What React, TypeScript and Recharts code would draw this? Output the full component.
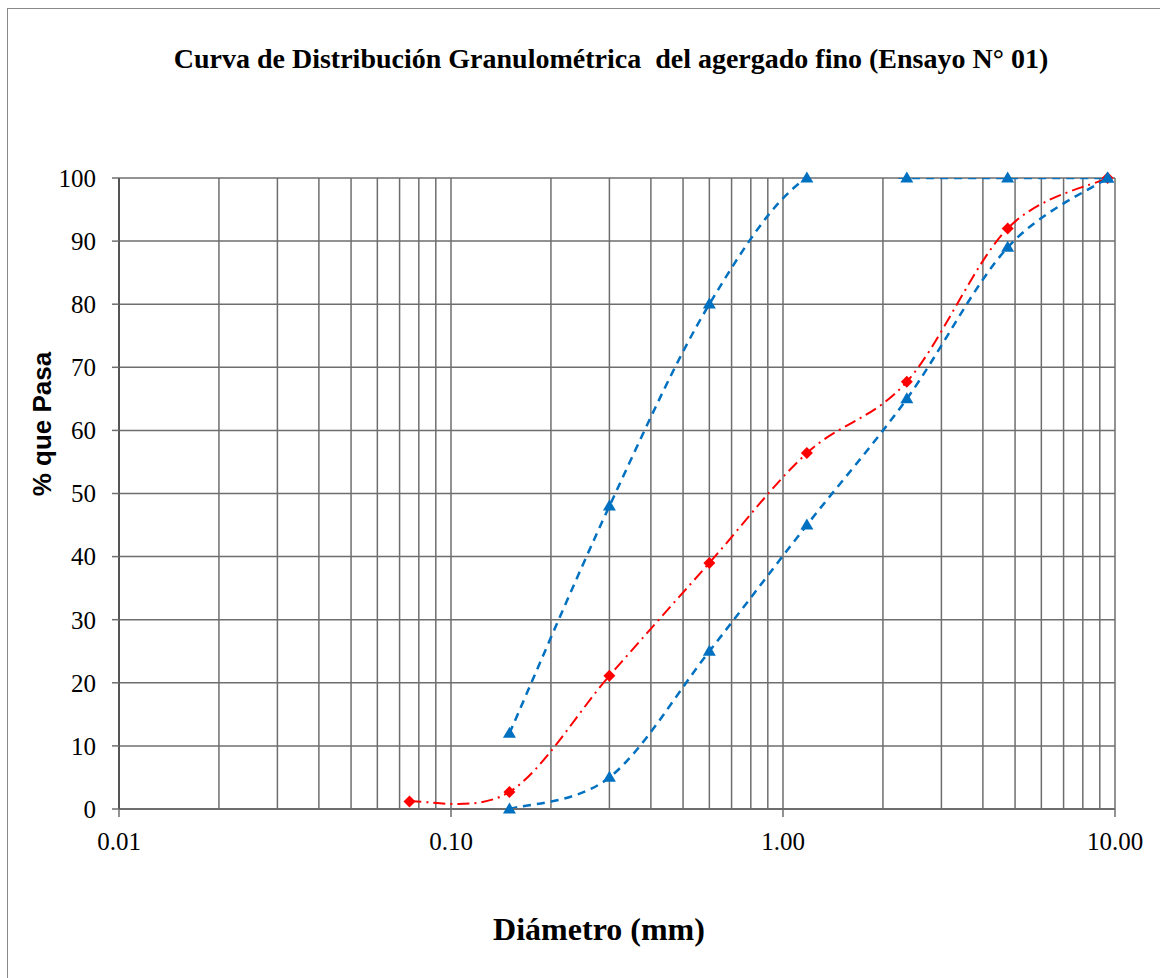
import React from 'react';
import { LineChart, Line, XAxis, YAxis, CartesianGrid } from 'recharts';

const sieveSizes = [0.075, 0.15, 0.3, 0.6, 1.18, 2.36, 4.75, 9.5];
const muestraPasa = [1.2, 2.7, 21.1, 39.0, 56.4, 67.7, 92.0, 100];

const limiteSizes = [0.15, 0.3, 0.6, 1.18, 2.36, 4.75, 9.5];
const limiteSuperior = [12, 48, 80, 100, 100, 100, 100];
const limiteInferior = [0, 5, 25, 45, 65, 89, 100];

const xTicks = [
  0.01, 0.02, 0.03, 0.04, 0.05, 0.06, 0.07, 0.08, 0.09,
  0.1, 0.2, 0.3, 0.4, 0.5, 0.6, 0.7, 0.8, 0.9,
  1, 2, 3, 4, 5, 6, 7, 8, 9, 10,
];
const xLabelTicks = [0.01, 0.1, 1, 10];
const yTicks = [0, 10, 20, 30, 40, 50, 60, 70, 80, 90, 100];

const redData = sieveSizes.map((x, i) => ({ x, y: muestraPasa[i] }));
const upperData = limiteSizes.map((x, i) => ({ x, y: limiteSuperior[i] }));
const lowerData = limiteSizes.map((x, i) => ({ x, y: limiteInferior[i] }));

const RED = '#FF0000';
const BLUE = '#0070C0';
const GRID = '#6e6e6e';
const SERIF = '"Liberation Serif", "Times New Roman", serif';
const SANS = '"Liberation Sans", Arial, sans-serif';

// Excel-like smoothed line (Catmull-Rom through points)
function excelSmooth(context: any) {
  let pts: [number, number][] = [];
  return {
    areaStart() {},
    areaEnd() {},
    lineStart() {
      pts = [];
    },
    lineEnd() {
      const n = pts.length;
      if (n === 0) return;
      context.moveTo(pts[0][0], pts[0][1]);
      if (n === 1) return;
      const t = 1 / 6;
      for (let i = 0; i < n - 1; i++) {
        const p0 = pts[i - 1] || pts[i];
        const p1 = pts[i];
        const p2 = pts[i + 1];
        const p3 = pts[i + 2] || p2;
        context.bezierCurveTo(
          p1[0] + (p2[0] - p0[0]) * t,
          p1[1] + (p2[1] - p0[1]) * t,
          p2[0] - (p3[0] - p1[0]) * t,
          p2[1] - (p3[1] - p1[1]) * t,
          p2[0],
          p2[1]
        );
      }
    },
    point(x: number, y: number) {
      pts.push([+x, +y]);
    },
  };
}

const diamond = (props: any) => {
  const { cx, cy, index } = props;
  if (cx == null || cy == null) return <g key={`d-${index}`} />;
  const s = 6;
  return (
    <path
      key={`d-${index}`}
      d={`M${cx},${cy - s}L${cx + s},${cy}L${cx},${cy + s}L${cx - s},${cy}Z`}
      fill={RED}
      stroke="none"
    />
  );
};

const triangle = (props: any) => {
  const { cx, cy, index, key } = props;
  if (cx == null || cy == null) return <g key={`t-${key}-${index}`} />;
  const w = 6.5;
  const h = 11;
  return (
    <path
      key={`t-${key}-${index}`}
      d={`M${cx},${cy - h * 0.6}L${cx + w},${cy + h * 0.4}L${cx - w},${cy + h * 0.4}Z`}
      fill={BLUE}
      stroke="none"
    />
  );
};

const XTick = (props: any) => {
  const { x, y, payload } = props;
  const v = payload.value;
  const isLabel = xLabelTicks.some((t) => Math.abs(t - v) < 1e-9);
  if (!isLabel) return <g />;
  return (
    <g>
      <line x1={x} y1={y} x2={x} y2={y + 8} stroke={GRID} strokeWidth={1.5} />
      <text
        x={x}
        y={y + 41}
        textAnchor="middle"
        fontFamily={SERIF}
        fontSize={25}
        fill="#000"
      >
        {v.toFixed(2)}
      </text>
    </g>
  );
};

export default function App() {
  return (
    <div
      style={{
        position: 'fixed',
        left: 0,
        top: 0,
        width: 1160,
        height: 978,
        overflow: 'hidden',
        background: '#fff',
      }}
    >
      <div
        style={{
          position: 'absolute',
          left: 7,
          top: 8,
          width: 1170,
          height: 1000,
          border: '1px solid #8a8a8a',
          boxSizing: 'border-box',
        }}
      />
      <div
        style={{
          position: 'absolute',
          left: 611,
          top: 45,
          transform: 'translateX(-50%)',
          whiteSpace: 'pre',
          fontFamily: SERIF,
          fontWeight: 'bold',
          fontSize: 28,
          lineHeight: '28px',
          color: '#000',
        }}
      >
        Curva de Distribución Granulométrica  del agergado fino (Ensayo N° 01)
      </div>
      <div
        style={{
          position: 'absolute',
          left: 599,
          top: 913,
          transform: 'translateX(-50%)',
          whiteSpace: 'pre',
          fontFamily: SERIF,
          fontWeight: 'bold',
          fontSize: 32,
          lineHeight: '32px',
          color: '#000',
        }}
      >
        Diámetro (mm)
      </div>
      <div
        style={{
          position: 'absolute',
          left: 42,
          top: 424,
          transform: 'translate(-50%, -50%) rotate(-90deg)',
          whiteSpace: 'pre',
          fontFamily: SANS,
          fontWeight: 'bold',
          fontSize: 26,
          lineHeight: '26px',
          color: '#000',
        }}
      >
        % que Pasa
      </div>
      <div style={{ position: 'absolute', left: 0, top: 0 }}>
        <LineChart
          width={1160}
          height={978}
          margin={{ top: 178, right: 45, bottom: 129, left: 59 }}
        >
          <CartesianGrid
            stroke={GRID}
            strokeWidth={1.5}
            horizontal={true}
            vertical={true}
          />
          <XAxis
            type="number"
            dataKey="x"
            scale="log"
            domain={[0.01, 10]}
            ticks={xTicks}
            interval={0}
            height={40}
            tickLine={false}
            tickSize={0}
            tickMargin={0}
            tick={<XTick />}
            axisLine={{ stroke: GRID, strokeWidth: 2 }}
          />
          <YAxis
            yAxisId={0}
            type="number"
            domain={[0, 100]}
            ticks={yTicks}
            interval={0}
            width={60}
            tickSize={7}
            tickMargin={16}
            tickLine={{ stroke: GRID, strokeWidth: 1.5 }}
            axisLine={{ stroke: '#555', strokeWidth: 2 }}
            tick={{ fontFamily: SERIF, fontSize: 25, fill: '#000' }}
          />
          <YAxis
            yAxisId="clip"
            type="number"
            domain={[0, 100]}
            allowDataOverflow
            hide
          />
          <Line
            yAxisId="clip"
            data={redData}
            dataKey="y"
            type={excelSmooth as any}
            stroke={RED}
            strokeWidth={2}
            strokeDasharray="12 5 2 5"
            dot={false}
            activeDot={false}
            isAnimationActive={false}
          />
          <Line
            yAxisId="clip"
            data={lowerData}
            dataKey="y"
            type={excelSmooth as any}
            stroke={BLUE}
            strokeWidth={2.5}
            strokeDasharray="8 6"
            dot={false}
            activeDot={false}
            isAnimationActive={false}
          />
          <Line
            yAxisId="clip"
            data={upperData}
            dataKey="y"
            type={excelSmooth as any}
            stroke={BLUE}
            strokeWidth={2.5}
            strokeDasharray="8 6"
            dot={false}
            activeDot={false}
            isAnimationActive={false}
          />
          <Line
            yAxisId={0}
            data={redData}
            dataKey="y"
            stroke="none"
            dot={diamond}
            activeDot={false}
            isAnimationActive={false}
          />
          <Line
            yAxisId={0}
            data={lowerData}
            dataKey="y"
            stroke="none"
            dot={(p: any) => triangle({ ...p, key: 'lo' })}
            activeDot={false}
            isAnimationActive={false}
          />
          <Line
            yAxisId={0}
            data={upperData}
            dataKey="y"
            stroke="none"
            dot={(p: any) => triangle({ ...p, key: 'up' })}
            activeDot={false}
            isAnimationActive={false}
          />
        </LineChart>
      </div>
    </div>
  );
}
